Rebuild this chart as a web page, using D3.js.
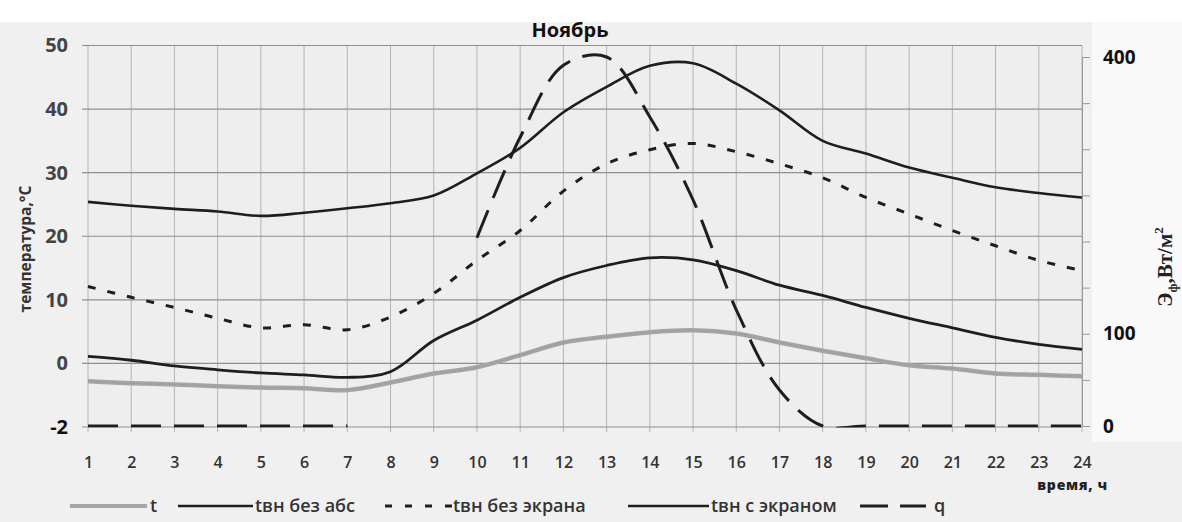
<!DOCTYPE html>
<html><head><meta charset="utf-8">
<script src="https://cdn.jsdelivr.net/npm/d3@7/dist/d3.min.js"></script>
<style>body{margin:0;background:#fff} svg{display:block}</style>
</head><body><svg id="c" width="1182" height="522"></svg>
<script>
const hours = [1,2,3,4,5,6,7,8,9,10,11,12,13,14,15,16,17,18,19,20,21,22,23,24];
const tOut   = [-2.8,-3.1,-3.3,-3.6,-3.8,-3.9,-4.2,-3.0,-1.6,-0.6,1.3,3.3,4.2,4.9,5.2,4.7,3.3,2.0,0.8,-0.3,-0.8,-1.6,-1.8,-2.0];
const tNoAbs = [25.4,24.8,24.3,23.9,23.2,23.7,24.4,25.2,26.4,29.9,33.9,39.5,43.5,46.8,47.2,44.0,39.8,35.0,33.0,30.8,29.2,27.7,26.8,26.1];
const tNoScr = [12.1,10.4,8.8,7.1,5.6,6.1,5.3,7.3,11.0,16.2,20.9,27.1,31.4,33.6,34.6,33.3,31.4,29.2,26.1,23.5,20.9,18.5,16.2,14.6];
const tScr   = [1.1,0.5,-0.4,-1.0,-1.5,-1.8,-2.2,-1.3,3.6,6.8,10.4,13.5,15.4,16.6,16.3,14.6,12.3,10.7,8.8,7.1,5.6,4.1,3.0,2.2];
const q      = [0,0,0,0,0,0,0,null,null,204,313,391,400,335,245,126,39,0,0,0,0,0,0,0];
const tempTicks = [-10,0,10,20,30,40,50];
const tempTickLabels = ["-2","0","10","20","30","40","50"];
const qTicks = [0,50,100,150,200,250,300,350,400];
const qTickLabels = ["0","","100","","","","","","400"];
const seriesNames = ["t","tвн без абс","tвн без экрана","tвн с экраном","q"];

const svg = d3.select("#c");
const L = 88, R = 1082, T = 45.5, B = 427;
const x = d3.scaleLinear().domain([1,24]).range([L,R]);
const y = d3.scaleLinear().domain([-10,50]).range([B,T]);
const yq = d3.scaleLinear().domain([0,400]).range([426,57]);

// background
svg.append("rect").attr("width",1182).attr("height",522).attr("fill","#f0f0f0");
svg.append("rect").attr("width",1182).attr("height",22).attr("fill","#ffffff");
svg.append("rect").attr("x",1092).attr("y",22).attr("width",90).attr("height",420).attr("fill","#f9f9f9");
svg.append("rect").attr("x",L).attr("y",T).attr("width",R-L).attr("height",B-T).attr("fill","#eeeeee");

svg.append("defs").append("clipPath").attr("id","qclip").append("rect")
  .attr("x",L-5).attr("y",0).attr("width",R-L+10).attr("height",yq(0)+1.5);

// grid
const g = svg.append("g");
g.selectAll(".vg").data(hours).join("line")
  .attr("x1",d=>x(d)).attr("x2",d=>x(d)).attr("y1",T).attr("y2",B+5)
  .attr("stroke","#b4b4b4").attr("stroke-width",1);
g.selectAll(".hg").data(tempTicks).join("line")
  .attr("x1",L-6).attr("x2",R).attr("y1",d=>y(d)).attr("y2",d=>y(d))
  .attr("stroke","#8f8f8f").attr("stroke-width",1.2);

// axes
const ax = svg.append("g").attr("transform",`translate(0,${B})`)
  .call(d3.axisBottom(x).tickValues(hours).tickSize(0).tickPadding(30).tickFormat(d3.format("d")));
ax.select(".domain").remove();
ax.selectAll("text").attr("font-family","'Open Sans', sans-serif").attr("font-size",16).attr("font-weight",600).attr("fill","#333");

const ay = svg.append("g").attr("transform",`translate(${L},0)`)
  .call(d3.axisLeft(y).tickValues(tempTicks).tickSize(0).tickPadding(20).tickFormat((d,i)=>tempTickLabels[i]));
ay.select(".domain").remove();
ay.selectAll("text").attr("font-family","'Open Sans', sans-serif").attr("font-size",20).attr("font-weight",700).attr("fill",(d)=>d===-10?"#111":"#444");

const aq = svg.append("g").attr("transform",`translate(${R},0)`)
  .call(d3.axisRight(yq).tickValues(qTicks).tickSizeInner(8).tickSizeOuter(0).tickPadding(13).tickFormat((d,i)=>qTickLabels[i]));
aq.select(".domain").attr("stroke","#999");
aq.selectAll("line").attr("stroke","#999");
aq.selectAll("text").attr("font-family","'Open Sans', sans-serif").attr("font-size",19).attr("font-weight",700).attr("fill","#111");

// lines
const mk = (ys, sc, cv) => d3.line().defined(d=>d[1]!==null).x(d=>x(d[0])).y(d=>sc(d[1])).curve(cv)(hours.map((h,i)=>[h,ys[i]]));
const smooth = d3.curveCatmullRom.alpha(0.5);
const plot = svg.append("g");
plot.append("path").attr("d",mk(tOut,y,smooth)).attr("fill","none").attr("stroke","#a6a6a6").attr("stroke-width",4.5);
plot.append("path").attr("d",mk(tOut,y,smooth)).attr("fill","none").attr("stroke","#888").attr("stroke-width",1.5).attr("stroke-dasharray","1 2").attr("opacity",0.6);
plot.append("path").attr("d",mk(tNoAbs,y,smooth)).attr("fill","none").attr("stroke","#1e1e1e").attr("stroke-width",2.6);
plot.append("path").attr("d",mk(tNoScr,y,smooth)).attr("fill","none").attr("stroke","#1e1e1e").attr("stroke-width",3).attr("stroke-dasharray","8 12");
plot.append("path").attr("d",mk(tScr,y,smooth)).attr("fill","none").attr("stroke","#1e1e1e").attr("stroke-width",2.8);
plot.append("path").attr("d",mk(q,yq,smooth)).attr("clip-path","url(#qclip)").attr("fill","none").attr("stroke","#1e1e1e").attr("stroke-width",3).attr("stroke-dasharray","30 13");

// titles
svg.append("text").attr("x",570).attr("y",37).attr("text-anchor","middle")
  .attr("font-family","'Open Sans', sans-serif").attr("font-weight",700).attr("font-size",20).attr("fill","#111").text("Ноябрь");
svg.append("text").attr("transform","translate(31,249) rotate(-90)").attr("text-anchor","middle")
  .attr("font-family","'Open Sans', sans-serif").attr("font-weight",700).attr("font-size",15.5).attr("fill","#333").text("температура,°С");
const rt = svg.append("text").attr("transform","translate(1172,267) rotate(-90)").attr("text-anchor","middle")
  .attr("font-family","'Liberation Serif', serif").attr("font-weight",700).attr("font-size",21).attr("fill","#222");
rt.append("tspan").text("Э");
rt.append("tspan").attr("font-size",13).attr("dy",5).text("ф");
rt.append("tspan").attr("dy",-5).text(",Вт/м");
rt.append("tspan").attr("font-size",13).attr("dy",-9).text("2");
svg.append("text").attr("x",1108).attr("y",490).attr("text-anchor","end").attr("letter-spacing",0.8)
  .attr("font-family","'Open Sans', sans-serif").attr("font-weight",800).attr("font-size",14).attr("fill","#222").text("время, ч");

// legend
const leg = [
  {x1:70,x2:147,tx:150,stroke:"#a6a6a6",w:4,dash:null},
  {x1:178,x2:253,tx:255,stroke:"#1e1e1e",w:2.6,dash:null},
  {x1:385,x2:452,tx:453,stroke:"#1e1e1e",w:3,dash:"7 13"},
  {x1:628,x2:709,tx:711,stroke:"#1e1e1e",w:2.6,dash:null},
  {x1:860,x2:926,tx:934,stroke:"#1e1e1e",w:3,dash:"28 12"}
];
const lg = svg.append("g");
leg.forEach((d,i)=>{
  lg.append("line").attr("x1",d.x1).attr("x2",d.x2).attr("y1",506).attr("y2",506)
    .attr("stroke",d.stroke).attr("stroke-width",d.w).attr("stroke-dasharray",d.dash);
  lg.append("text").attr("x",d.tx).attr("y",512).attr("font-family","'Open Sans', sans-serif")
    .attr("font-size",18).attr("font-weight",600).attr("fill","#333").text(seriesNames[i]);
});
</script></body></html>
